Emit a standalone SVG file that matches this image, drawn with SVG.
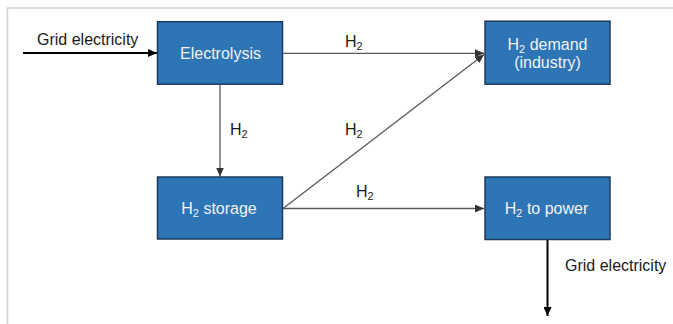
<svg xmlns="http://www.w3.org/2000/svg" width="673" height="324" viewBox="0 0 673 324">
  <style>
    .box { fill: #2E75B6; stroke: #1F3A5F; stroke-width: 1.5; }
    .bt { font-family: "Liberation Sans", Arial, sans-serif; font-size: 16px; fill: #F2F2F2; text-anchor: middle; }
    .lb { font-family: "Liberation Sans", Arial, sans-serif; font-size: 16px; fill: #1A1A1A; }
    .sub { font-size: 11px; }
    .gl { stroke: #595959; stroke-width: 1.3; fill: none; marker-end: url(#ag); }
    .bl { stroke: #000; stroke-width: 2; fill: none; marker-end: url(#ab); }
    .frame { stroke: #D0D0D0; stroke-width: 1.5; fill: none; }
  </style>
  <defs>
    <marker id="ag" viewBox="0 0 10 10" refX="10" refY="5" markerWidth="9" markerHeight="8" markerUnits="userSpaceOnUse" orient="auto" preserveAspectRatio="none">
      <path d="M0,0 L10,5 L0,10 z" fill="#333"/>
    </marker>
    <marker id="ab" viewBox="0 0 10 10" refX="10" refY="5" markerWidth="9" markerHeight="8" markerUnits="userSpaceOnUse" orient="auto" preserveAspectRatio="none">
      <path d="M0,0 L10,5 L0,10 z" fill="#000"/>
    </marker>
  </defs>
  <rect width="673" height="324" fill="#FFFFFF"/>
  <path class="frame" d="M7.5,324 L7.5,8 L673,8"/>

  <g id="connectors">
    <line class="bl" x1="23" y1="53" x2="157" y2="53"/>
    <line class="gl" x1="283" y1="53.3" x2="484" y2="53.3"/>
    <line class="gl" x1="220" y1="84" x2="220" y2="176.5"/>
    <line class="gl" x1="283" y1="208.5" x2="484" y2="54.5"/>
    <line class="gl" x1="283" y1="208.5" x2="484" y2="208.5"/>
    <line class="bl" x1="547.5" y1="240" x2="547.5" y2="316"/>
    <text class="lb" x="37" y="44.5">Grid electricity</text>
    <text class="lb" x="345" y="47">H<tspan class="sub" dy="3">2</tspan></text>
    <text class="lb" x="230" y="134.5">H<tspan class="sub" dy="3">2</tspan></text>
    <text class="lb" x="345" y="134.5">H<tspan class="sub" dy="3">2</tspan></text>
    <text class="lb" x="356" y="197">H<tspan class="sub" dy="3">2</tspan></text>
    <text class="lb" x="565" y="271">Grid electricity</text>
  </g>

  <g id="electrolysis">
    <rect class="box" x="157.5" y="21.7" width="125" height="62.5"/>
    <text class="bt" x="220.5" y="59">Electrolysis</text>
  </g>
  <g id="h2-demand">
    <rect class="box" x="485" y="21.2" width="125" height="63"/>
    <text class="bt" x="547.5" y="50">H<tspan class="sub" dy="3">2</tspan><tspan dy="-3"> demand</tspan></text>
    <text class="bt" x="547.5" y="67.5">(industry)</text>
  </g>
  <g id="h2-storage">
    <rect class="box" x="157.5" y="177" width="125" height="62"/>
    <text class="bt" x="219" y="213.5">H<tspan class="sub" dy="3">2</tspan><tspan dy="-3"> storage</tspan></text>
  </g>
  <g id="h2-to-power">
    <rect class="box" x="485" y="177" width="125" height="62.5"/>
    <text class="bt" x="546.5" y="214">H<tspan class="sub" dy="3">2</tspan><tspan dy="-3"> to power</tspan></text>
  </g>
</svg>
